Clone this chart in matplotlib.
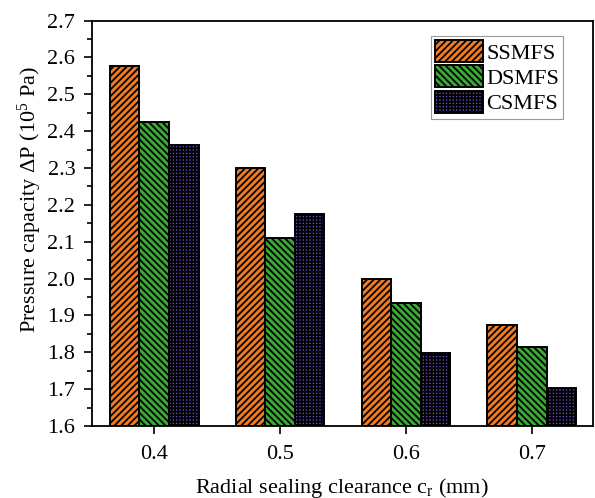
import matplotlib
matplotlib.use("Agg")
import matplotlib.pyplot as plt
import numpy as np
from matplotlib.ticker import MultipleLocator

plt.rcParams['font.family'] = ['Liberation Serif', 'DejaVu Serif']
plt.rcParams['mathtext.fontset'] = 'custom'
plt.rcParams['mathtext.rm'] = 'Liberation Serif'
plt.rcParams['mathtext.it'] = 'Liberation Serif:italic'
plt.rcParams['hatch.linewidth'] = 1.3

# data
clearance = ['0.4', '0.5', '0.6', '0.7']
ssmfs = [2.576, 2.299, 2.000, 1.874]
dsmfs = [2.426, 2.109, 1.933, 1.814]
csmfs = [2.362, 2.174, 1.799, 1.704]

series = ['SSMFS', 'DSMFS', 'CSMFS']
colors = ['#F47B20', '#3AAA35', '#6448B8']
hatches = ['/////', '\\\\\\\\\\', '+++++']

fig = plt.figure(figsize=(5.95, 4.98), dpi=100)
ax = fig.add_axes([0.1546, 0.1446, 0.8412, 0.8142])

x = np.arange(len(clearance))
w = 0.235
for i, vals in enumerate([ssmfs, dsmfs, csmfs]):
    ax.bar(x + (i - 1) * w, [v - 1.6 for v in vals], w, bottom=1.6,
           color=colors[i], edgecolor='black', hatch=hatches[i],
           linewidth=1.4, label=series[i])

ax.set_xlim(-0.495, 3.483)
ax.set_ylim(1.6, 2.7)
ax.set_xticks(x)
ax.set_xticklabels(clearance)
ax.yaxis.set_major_locator(MultipleLocator(0.1))
ax.yaxis.set_minor_locator(MultipleLocator(0.05))
ax.yaxis.set_major_formatter(matplotlib.ticker.FormatStrFormatter('%.1f'))

ax.tick_params(axis='both', which='major', direction='out', length=6, width=1.2,
               labelsize=16, top=False, right=False)
ax.tick_params(axis='y', which='minor', direction='out', length=3.5, width=1.2)
ax.tick_params(axis='x', pad=8)
ax.tick_params(axis='y', pad=6)
for s in ax.spines.values():
    s.set_linewidth(1.3)

ax.set_xlabel(r'Radial sealing clearance c$_\mathrm{r}$ (mm)', fontsize=16, labelpad=8)
ax.set_ylabel(r'Pressure capacity $\Delta$P (10$^5$ Pa)', fontsize=16)
ax.yaxis.set_label_coords(-0.096, 0.56)

leg = ax.legend(loc='upper right', bbox_to_anchor=(0.942, 0.963), fontsize=16,
                fancybox=False, edgecolor='#999999', framealpha=1,
                handlelength=2.15, handleheight=1.15, handletextpad=0.15,
                labelspacing=0.08, borderpad=0.2, borderaxespad=0)
leg.get_frame().set_linewidth(0.8)

fig.savefig('out.png', dpi=100)
